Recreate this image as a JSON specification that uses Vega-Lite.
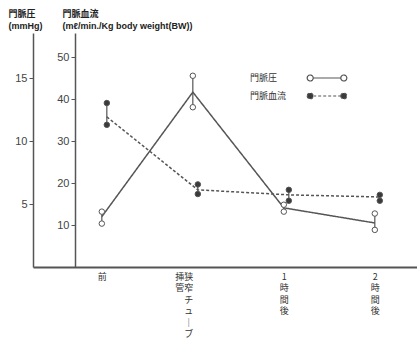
{
  "$schema": "https://vega.github.io/schema/vega-lite/v6.json",
  "autosize": "none",
  "padding": {"left": 33, "top": 33, "right": 0, "bottom": 78},
  "width": 384,
  "height": 234,
  "background": "white",
  "config": {
    "view": {"stroke": null},
    "font": "Liberation Sans, Noto Sans CJK JP",
    "axis": {
      "domainColor": "#555",
      "tickColor": "#555",
      "labelColor": "#444",
      "titleColor": "#222",
      "labelFont": "Liberation Sans, Noto Sans CJK JP",
      "titleFont": "Liberation Sans, Noto Sans CJK JP",
      "grid": false
    },
    "legend": {
      "title": null,
      "orient": "none",
      "legendX": 287,
      "legendY": 38,
      "symbolType": "M-3.3,0 A0.5,0.5 0 1,0 -2.3,0 A0.5,0.5 0 1,0 -3.3,0 M-2.3,0 L2.3,0 M2.3,0 A0.5,0.5 0 1,0 3.3,0 A0.5,0.5 0 1,0 2.3,0",
      "symbolSize": 144,
      "symbolStrokeColor": "#555",
      "symbolStrokeWidth": 1.2,
      "labelAlign": "left",
      "labelOffset": -84,
      "labelFontSize": 9,
      "labelFont": "Noto Sans CJK JP",
      "labelColor": "#333",
      "rowPadding": 5,
      "padding": 0
    }
  },
  "data": {
    "values": [
      {"stage": "前", "series": "門脈圧", "mean": 4.0, "lo": 3.45, "hi": 4.4},
      {"stage": "狭窄チューブ挿管", "series": "門脈圧", "mean": 13.9, "lo": 12.7, "hi": 15.2},
      {"stage": "1時間後", "series": "門脈圧", "mean": 4.7, "lo": 4.4, "hi": 4.95},
      {"stage": "2時間後", "series": "門脈圧", "mean": 3.5, "lo": 2.95, "hi": 4.25},
      {"stage": "前", "series": "門脈血流", "mean": 35.8, "lo": 33.9, "hi": 39.1},
      {"stage": "狭窄チューブ挿管", "series": "門脈血流", "mean": 18.4, "lo": 17.4, "hi": 19.7},
      {"stage": "1時間後", "series": "門脈血流", "mean": 17.2, "lo": 15.8, "hi": 18.4},
      {"stage": "2時間後", "series": "門脈血流", "mean": 16.7, "lo": 15.8, "hi": 17.2}
    ]
  },
  "encoding": {
    "x": {
      "field": "stage",
      "type": "nominal",
      "sort": ["前", "狭窄チューブ挿管", "1時間後", "2時間後"],
      "scale": {"type": "point", "padding": 0.61, "align": 0.62},
      "axis": {
        "title": null,
        "orient": "bottom",
        "domainWidth": 2,
        "ticks": false,
        "labelAngle": 0,
        "labelPadding": 5,
        "labelBaseline": "top",
        "labelLineHeight": 11.5,
        "labelFontSize": 9,
        "labelColor": "#333",
        "labelFont": "Noto Sans CJK JP",
        "labelAlign": {"condition": {"test": "datum.value === '狭窄チューブ挿管'", "value": "right"}, "value": "center"},
        "labelExpr": "datum.value === '狭窄チューブ挿管' ? ['挿狭', '管窄', 'チ', 'ュ', '｜', 'ブ'] : split(datum.value, '')"
      }
    },
    "xOffset": {
      "field": "series",
      "type": "nominal",
      "scale": {"type": "point", "domain": ["門脈圧", "門脈血流"], "range": [0, 5], "padding": 0}
    }
  },
  "layer": [
    {
      "transform": [{"filter": "datum.series === '門脈圧'"}],
      "encoding": {
        "y": {
          "field": "mean",
          "type": "quantitative",
          "scale": {"domain": [0, 18.6], "nice": false, "zero": true},
          "axis": {
            "orient": "left",
            "values": [5, 10, 15],
            "title": ["門脈圧", "(mmHg)"],
            "titleAngle": 0,
            "titleAlign": "left",
            "titleBaseline": "top",
            "titleX": -25,
            "titleY": -24,
            "titleFontSize": 9,
            "titleFontWeight": "bold",
            "titleLineHeight": 12,
            "tickSize": 4,
            "labelPadding": 2,
            "labelFontSize": 11,
            "domainWidth": 1.5
          }
        }
      },
      "layer": [
        {
          "mark": {"type": "rule", "stroke": "#555", "strokeWidth": 1.2},
          "encoding": {"y": {"field": "lo", "type": "quantitative"}, "y2": {"field": "hi"}}
        },
        {
          "mark": {"type": "line", "stroke": "#555", "strokeWidth": 1.5},
          "encoding": {
            "strokeDash": {"field": "series", "type": "nominal", "scale": {"domain": ["門脈圧", "門脈血流"], "range": [[1, 0], [3, 2]]}}
          }
        },
        {
          "mark": {"type": "point", "filled": true, "stroke": "#555", "strokeWidth": 1, "size": 30, "opacity": 1},
          "encoding": {
            "y": {"field": "lo", "type": "quantitative"},
            "fill": {"field": "series", "type": "nominal", "scale": {"domain": ["門脈圧", "門脈血流"], "range": ["#ffffff", "#3a3a3a"]}}
          }
        },
        {
          "mark": {"type": "point", "filled": true, "stroke": "#555", "strokeWidth": 1, "size": 30, "opacity": 1},
          "encoding": {
            "y": {"field": "hi", "type": "quantitative"},
            "fill": {"field": "series", "type": "nominal"}
          }
        }
      ]
    },
    {
      "transform": [{"filter": "datum.series === '門脈血流'"}],
      "encoding": {
        "y": {
          "field": "mean",
          "type": "quantitative",
          "scale": {"domain": [0, 55.8], "nice": false, "zero": true},
          "axis": {
            "orient": "left",
            "offset": -42,
            "values": [10, 20, 30, 40, 50],
            "title": ["門脈血流", "(mℓ/min./Kg body weight(BW))"],
            "titleAngle": 0,
            "titleAlign": "left",
            "titleBaseline": "top",
            "titleX": -13,
            "titleY": -24,
            "titleFontSize": 9,
            "titleFontWeight": "bold",
            "titleLineHeight": 12,
            "tickSize": 4,
            "labelPadding": 2,
            "labelFontSize": 11,
            "domainWidth": 1.5
          }
        }
      },
      "layer": [
        {
          "mark": {"type": "rule", "stroke": "#555", "strokeWidth": 1.2},
          "encoding": {"y": {"field": "lo", "type": "quantitative"}, "y2": {"field": "hi"}}
        },
        {
          "mark": {"type": "line", "stroke": "#555", "strokeWidth": 1.5},
          "encoding": {
            "strokeDash": {"field": "series", "type": "nominal"}
          }
        },
        {
          "mark": {"type": "point", "filled": true, "stroke": "#555", "strokeWidth": 1, "size": 30, "opacity": 1},
          "encoding": {
            "y": {"field": "lo", "type": "quantitative"},
            "fill": {"field": "series", "type": "nominal"}
          }
        },
        {
          "mark": {"type": "point", "filled": true, "stroke": "#555", "strokeWidth": 1, "size": 30, "opacity": 1},
          "encoding": {
            "y": {"field": "hi", "type": "quantitative"},
            "fill": {"field": "series", "type": "nominal"}
          }
        }
      ]
    }
  ],
  "resolve": {"scale": {"y": "independent"}}
}
